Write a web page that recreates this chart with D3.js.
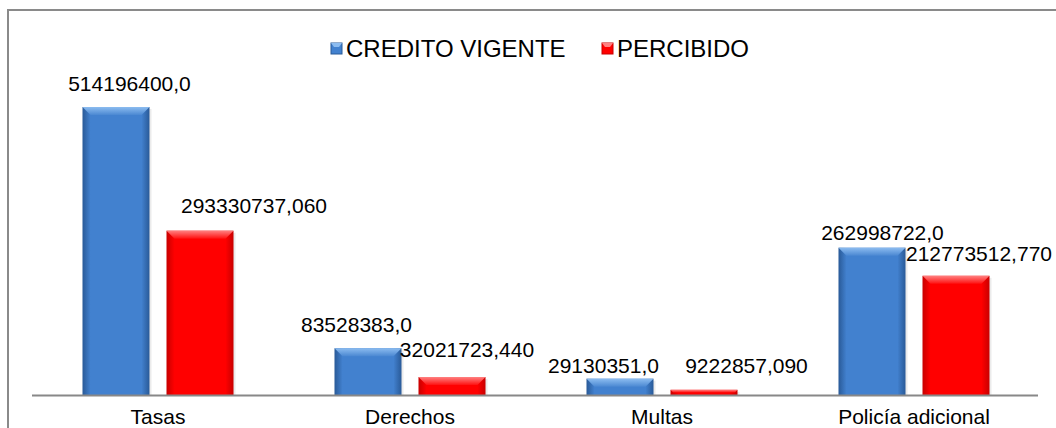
<!DOCTYPE html>
<html>
<head>
<meta charset="utf-8">
<script src="https://cdn.jsdelivr.net/npm/d3@7"></script>
<style>
  html, body { margin: 0; padding: 0; background: #fff; }
  svg { display: block; font-family: "Liberation Sans", Arial, sans-serif; }
</style>
</head>
<body>
<svg id="chart" width="1056" height="428"></svg>
<script>
// ---- data ----
const categories = ["Tasas", "Derechos", "Multas", "Policía adicional"];
const seriesNames = ["CREDITO VIGENTE", "PERCIBIDO"];
const creditoVigente = [514196400.0, 83528383.0, 29130351.0, 262998722.0];
const percibido = [293330737.06, 32021723.44, 9222857.09, 212773512.77];
const labelDecimals = [1, 3];
// manual label nudges (dx from bar centre, gap above bar top), as in the original
const labelDx = [[13.5, -11.5, -16.5, 10.5], [54, 15, 42.5, 23]];
const labelGap = [[16, 16, 6, 8], [18, 20, 17, 15]];

// ---- layout ----
const W = 1056, H = 428;
const plot = { left: 32, right: 1040, base: 395, top: 107 };
const colors = [
  { main: "#4281cf", edge: "#295a98", light: "#8cbcf0", lightEnd: "#4b88d2" },
  { main: "#ff0000", edge: "#c80000", light: "#ff8080", lightEnd: "#ff1010" }
];

const svg = d3.select("#chart");
const defs = svg.append("defs");

colors.forEach((c, i) => {
  const h = defs.append("linearGradient").attr("id", "hg" + i)
    .attr("x1", "0").attr("x2", "1").attr("y1", "0").attr("y2", "0");
  h.append("stop").attr("offset", "0").attr("stop-color", c.edge);
  h.append("stop").attr("offset", "0.12").attr("stop-color", c.main);
  h.append("stop").attr("offset", "0.88").attr("stop-color", c.main);
  h.append("stop").attr("offset", "1").attr("stop-color", c.edge);
  const v = defs.append("linearGradient").attr("id", "vg" + i)
    .attr("x1", "0").attr("x2", "0").attr("y1", "0").attr("y2", "1");
  v.append("stop").attr("offset", "0").attr("stop-color", c.light);
  v.append("stop").attr("offset", "1").attr("stop-color", c.lightEnd);
});

// outer border (top & left visible)
svg.append("path")
  .attr("d", `M8,${H} L8,10 L${W},10`)
  .attr("fill", "none").attr("stroke", "#8a8a8a").attr("stroke-width", 2);

const x0 = d3.scaleBand().domain(categories).range([plot.left, plot.right]).paddingInner(0).paddingOuter(0);
const x1 = d3.scaleBand().domain([0, 1]).range([0, x0.bandwidth()]).paddingInner(17 / 84).paddingOuter(0.601);
const allSeries = [creditoVigente, percibido];
const y = d3.scaleLinear().domain([0, d3.max(creditoVigente.concat(percibido))]).range([plot.base, plot.top]);

const fmt = (v, d) => d3.format("." + d + "f")(v).replace(".", ",");

const bevel = 8;
allSeries.forEach((vals, s) => {
  const g = svg.append("g");
  categories.forEach((cat, i) => {
    const bx = x0(cat) + x1(s);
    const bw = x1.bandwidth();
    const by = y(vals[i]);
    const bh = plot.base - by;
    // shadow
    g.append("rect").attr("x", bx + 2).attr("y", by + 2).attr("width", bw).attr("height", bh - 2)
      .attr("fill", "#000").attr("opacity", 0.08);
    g.append("rect").attr("x", bx).attr("y", by).attr("width", bw).attr("height", bh)
      .attr("fill", `url(#hg${s})`);
    const b = Math.min(bevel, bh / 2);
    g.append("polygon")
      .attr("points", `${bx},${by} ${bx + bw},${by} ${bx + bw - b},${by + b} ${bx + b},${by + b}`)
      .attr("fill", `url(#vg${s})`);
    // value label
    svg.append("text")
      .attr("x", bx + bw / 2 + labelDx[s][i])
      .attr("y", by - labelGap[s][i])
      .attr("text-anchor", "middle")
      .attr("font-size", 21)
      .attr("fill", "#000")
      .text(fmt(vals[i], labelDecimals[s]));
  });
});

// baseline axis
const axis = d3.axisBottom(x0).tickSize(0).tickPadding(14);
const ax = svg.append("g").attr("transform", `translate(0,${plot.base})`).call(axis);
ax.select(".domain").attr("d", `M${plot.left - 0},0.5H${plot.right - 2}`)
  .attr("stroke", "#888").attr("stroke-width", 2);
ax.selectAll(".tick text").attr("font-size", 21).attr("fill", "#000")
  .attr("font-family", "Liberation Sans, Arial, sans-serif")
  .attr("dy", "0.71em");

// legend
const legend = svg.append("g");
const legX = [331, 602];
seriesNames.forEach((name, s) => {
  const lg = legend.append("g").attr("transform", `translate(${legX[s]},43)`);
  lg.append("rect").attr("width", 11).attr("height", 11).attr("fill", colors[s].main)
    .attr("stroke", colors[s].edge).attr("stroke-width", 1);
  lg.append("polygon").attr("points", "0,0 11,0 8,4 3,4").attr("fill", colors[s].light);
  lg.append("text").attr("x", 15).attr("y", 14).attr("font-size", 24).attr("fill", "#000").text(name);
});
</script>
</body>
</html>
